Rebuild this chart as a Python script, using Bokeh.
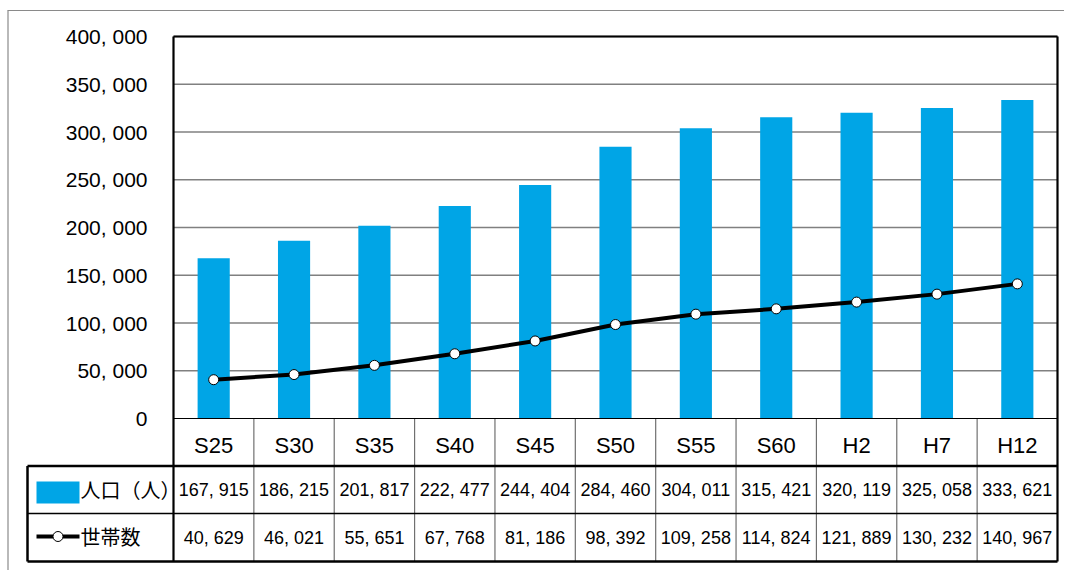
from bokeh.plotting import figure
from bokeh.models import Range1d, FixedTicker, LinearAxis
from bokeh.core.properties import value
from bokeh.embed import file_html
from bokeh.resources import INLINE

# ---- data ----
categories = ["S25", "S30", "S35", "S40", "S45", "S50", "S55", "S60", "H2", "H7", "H12"]
population = [167915, 186215, 201817, 222477, 244404, 284460, 304011, 315421, 320119, 325058, 333621]
households = [40629, 46021, 55651, 67768, 81186, 98392, 109258, 114824, 121889, 130232, 140967]
y_ticks = [0, 50000, 100000, 150000, 200000, 250000, 300000, 350000, 400000]
series_names = ["人口（人）", "世帯数"]


def fmt(v):
    return f"{v:,}".replace(",", ", ")


# ---- layout (page pixels) ----
W, H = 1064, 570
PX0, PY0 = 0, 0
PLOT_L, PLOT_R, PLOT_T, PLOT_B = 173, 1057, 36, 418
TABLE_L = 27
ROW_Y = [418, 465.5, 513, 561]
Y_MAX = y_ticks[-1]
n = len(categories)
ux = (PLOT_R - PLOT_L) / n
uy = (PLOT_B - PLOT_T) / Y_MAX


def dx(px):
    return (px - PLOT_L) / ux - 0.5


def dy(py):
    return (PLOT_B - py) / uy


FONT_NUM = "Liberation Sans"
FONT_JP = "Noto Sans CJK JP"
BLUE = "#00A5E6"

idx = list(range(n))

p = figure(width=W, height=H,
           x_range=Range1d(dx(PX0), dx(PX0 + W)),
           y_range=Range1d(dy(PY0 + H), dy(PY0)),
           output_backend="svg", toolbar_location=None,
           x_axis_type=None, y_axis_type=None, min_border=0)
p.outline_line_color = None
p.background_fill_color = "white"
p.border_fill_color = "white"

# gridlines
gy = y_ticks[1:]
p.segment(x0=[dx(PLOT_L)] * len(gy), x1=[dx(PLOT_R)] * len(gy), y0=gy, y1=gy,
          line_color="#808080", line_width=1.5)

# bars
p.vbar(x=idx, top=population, bottom=0, width=0.4, fill_color=BLUE, line_color=None)

# household line
p.line(idx, households, line_color="black", line_width=4)
p.scatter(idx, households, size=10, fill_color="white", line_color="black", line_width=1)

# column separators in table
sep = [i + 0.5 for i in range(n - 1)]
p.segment(x0=sep, x1=sep, y0=[0] * len(sep), y1=[dy(ROW_Y[3])] * len(sep),
          line_color="#707070", line_width=1.2)

# borders
xl, xr = dx(PLOT_L), dx(PLOT_R)
xt = dx(TABLE_L)
p.segment(x0=[xl, xl, xr, xt, xt, xt, xt, xl],
          x1=[xr, xl, xr, xr, xr, xr, xt, xr],
          y0=[dy(PLOT_T), dy(PLOT_T), dy(PLOT_T), dy(ROW_Y[1]), dy(ROW_Y[2]), dy(ROW_Y[3]), dy(ROW_Y[1]), 0],
          y1=[dy(PLOT_T), dy(ROW_Y[3]), dy(ROW_Y[3]), dy(ROW_Y[1]), dy(ROW_Y[2]), dy(ROW_Y[3]), dy(ROW_Y[3]), 0],
          line_color="black", line_width=[2.2, 2.2, 2.2, 2.5, 1.5, 2.5, 2.5, 1.2])

# outer frame (left & top)
p.segment(x0=[dx(7.5), dx(7)], x1=[dx(7.5), dx(PX0 + W)],
          y0=[dy(10), dy(10)], y1=[dy(PY0 + H), dy(10)],
          line_color="#8a8a8a", line_width=1.2)

# y axis
yaxis = LinearAxis(ticker=FixedTicker(ticks=y_ticks), fixed_location=dx(PLOT_L),
                   major_label_overrides={v: fmt(v) for v in y_ticks})
yaxis.axis_line_color = None
yaxis.major_tick_line_color = None
yaxis.minor_tick_line_color = None
yaxis.major_tick_out = 0
yaxis.major_tick_in = 0
yaxis.major_label_standoff = 26
yaxis.major_label_text_font = FONT_NUM
yaxis.major_label_text_font_size = "21px"
yaxis.major_label_text_color = "black"
p.add_layout(yaxis, "left")

# x axis (category row)
xaxis = LinearAxis(ticker=FixedTicker(ticks=idx), fixed_location=0,
                   major_label_overrides={i: c for i, c in enumerate(categories)})
xaxis.axis_line_color = None
xaxis.major_tick_line_color = None
xaxis.minor_tick_line_color = None
xaxis.major_tick_out = 0
xaxis.major_tick_in = 0
xaxis.major_label_standoff = 14
xaxis.major_label_text_font = FONT_NUM
xaxis.major_label_text_font_size = "22px"
xaxis.major_label_text_color = "black"
p.add_layout(xaxis, "below")

# table values
row1 = (ROW_Y[1] + ROW_Y[2]) / 2
row2 = (ROW_Y[2] + ROW_Y[3]) / 2
p.text(x=idx, y=[dy(row1)] * n, text=[fmt(v) for v in population],
       text_align="center", text_baseline="middle",
       text_font=value(FONT_NUM), text_font_size="18px", text_color="black")
p.text(x=idx, y=[dy(row2)] * n, text=[fmt(v) for v in households],
       text_align="center", text_baseline="middle",
       text_font=value(FONT_NUM), text_font_size="18px", text_color="black")

# legend cells
p.rect(x=[dx(57.5)], y=[dy(492)], width=43, height=22, width_units="screen",
       height_units="screen", fill_color=BLUE, line_color=None)
p.segment(x0=[dx(36)], x1=[dx(79)], y0=[dy(536)], y1=[dy(536)], line_color="black", line_width=4)
p.scatter(x=[dx(57.5)], y=[dy(536)], size=10, fill_color="white", line_color="black", line_width=1)
p.text(x=[dx(80), dx(80)], y=[dy(489), dy(536)], text=series_names,
       text_align="left", text_baseline="middle",
       text_font=value(FONT_JP), text_font_size="20px", text_color="black")

open("out.html", "w").write(file_html(p, INLINE))
